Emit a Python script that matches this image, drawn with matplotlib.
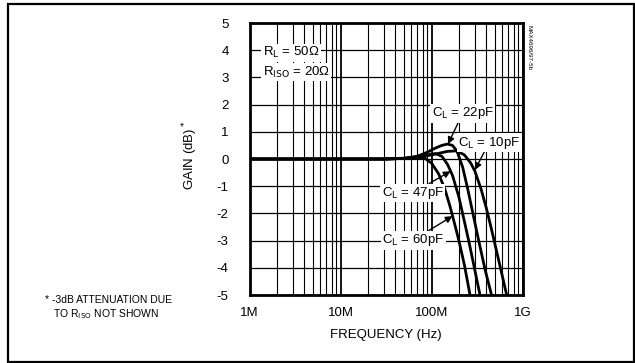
import numpy as np
import matplotlib.pyplot as plt
from matplotlib.patches import Rectangle
from matplotlib.ticker import FixedLocator, NullFormatter

plt.rcParams['font.family'] = ['Liberation Sans', 'DejaVu Sans']

# frequencies in MHz, gain in dB
f_60 = [1, 10, 30, 50, 70, 85, 100, 120, 140, 160, 180, 200, 230, 265]
g_60 = [0, 0, 0, 0.02, 0.05, 0.02, -0.15, -0.55, -1.1, -1.75, -2.4, -3.0, -3.9, -5.0]

f_47 = [1, 10, 30, 50, 70, 90, 110, 130, 150, 170, 200, 230, 260, 300, 341]
g_47 = [0, 0, 0, 0.02, 0.08, 0.15, 0.2, 0.1, -0.2, -0.6, -1.4, -2.3, -3.1, -4.1, -5.0]

f_22 = [1, 10, 30, 50, 70, 90, 110, 130, 150, 170, 190, 220, 250, 285, 330, 390, 457]
g_22 = [0, 0, 0, 0.03, 0.1, 0.25, 0.4, 0.5, 0.55, 0.5, 0.3, -0.3, -1.1, -2.0, -3.0, -4.1, -5.0]

f_10 = [1, 10, 30, 50, 70, 100, 150, 190, 230, 270, 300, 350, 400, 450, 520, 600, 670]
g_10 = [0, 0, 0, 0.02, 0.05, 0.15, 0.28, 0.3, 0.15, -0.15, -0.45, -1.1, -1.8, -2.5, -3.4, -4.3, -5.0]

y_ticks = [5, 4, 3, 2, 1, 0, -1, -2, -3, -4, -5]
x_ticks = [1e6, 1e7, 1e8, 1e9]
x_labels = ['1M', '10M', '100M', '1G']

W, H = 635, 363
fig = plt.figure(figsize=(W / 100, H / 100), dpi=100)
ax = fig.add_axes([249.5 / W, 1 - 295 / H, 273 / W, 272 / H])

# outer frame
fig.patches.append(Rectangle((8 / W, 1.5 / H), 625.5 / W, 358 / H, transform=fig.transFigure,
                             fill=False, lw=1.6, ec='black'))

ax.set_xscale('log')
ax.set_xlim(1e6, 1e9)
ax.set_ylim(-5, 5)

minors = [m * 10 ** d for d in range(6, 9) for m in range(2, 10)]
ax.xaxis.set_major_locator(FixedLocator(x_ticks))
ax.xaxis.set_minor_locator(FixedLocator(minors))
ax.xaxis.set_minor_formatter(NullFormatter())
ax.set_xticklabels(x_labels)
ax.set_yticks(y_ticks)
ax.set_yticklabels([str(v) for v in y_ticks])

ax.grid(True, which='major', axis='x', color='black', lw=1.3)
ax.grid(True, which='minor', axis='x', color='black', lw=0.8)
ax.grid(True, which='major', axis='y', color='black', lw=0.9)
ax.tick_params(which='both', length=0, labelsize=9.5)
ax.tick_params(axis='y', pad=15)
ax.tick_params(axis='x', pad=9)
for s in ax.spines.values():
    s.set_linewidth(2)

for f, g in [(f_60, g_60), (f_47, g_47), (f_22, g_22), (f_10, g_10)]:
    ax.plot(np.array(f) * 1e6, g, color='black', lw=2)

ax.set_xlabel('FREQUENCY (Hz)', fontsize=9.5, labelpad=7)
fig.text(190 / W, 1 - 155 / H, 'GAIN (dB)$^*$', rotation=90, ha='center', va='center', fontsize=9.5)

box = dict(facecolor='white', edgecolor='none', pad=1)
ax.text(1.4e6, 3.9, 'R$_\\mathrm{L}$ = 50Ω', fontsize=9.5, va='center', bbox=box)
ax.text(1.4e6, 3.2, 'R$_\\mathrm{ISO}$ = 20Ω', fontsize=9.5, va='center', bbox=box)

arrow = dict(arrowstyle='-|>', color='black', lw=1, mutation_scale=10, shrinkA=0, shrinkB=0)
ax.annotate('C$_\\mathrm{L}$ = 22pF', xy=(1.52e8, 0.55), xytext=(2.2e8, 1.68), ha='center', va='center',
            fontsize=9.5, bbox=box, arrowprops=arrow)
ax.annotate('C$_\\mathrm{L}$ = 10pF', xy=(3.0e8, -0.4), xytext=(4.3e8, 0.6), ha='center', va='center',
            fontsize=9.5, bbox=box, arrowprops=arrow)
ax.annotate('C$_\\mathrm{L}$ = 47pF', xy=(1.62e8, -0.45), xytext=(6.2e7, -1.25), ha='center', va='center',
            fontsize=9.5, bbox=box, arrowprops=arrow)
ax.annotate('C$_\\mathrm{L}$ = 60pF', xy=(1.7e8, -2.1), xytext=(6.3e7, -2.98), ha='center', va='center',
            fontsize=9.5, bbox=box, arrowprops=arrow)

fig.text(529 / W, 1 - 25 / H, 'MAX4696/97-5b', rotation=-90, ha='center', va='top', fontsize=4.5)

fig.text(45 / W, 1 - 300 / H, '* -3dB ATTENUATION DUE', fontsize=7.5, va='center')
fig.text(53 / W, 1 - 314 / H, 'TO R$_\\mathrm{ISO}$ NOT SHOWN', fontsize=7.5, va='center')

fig.savefig('out.png', dpi=100)
